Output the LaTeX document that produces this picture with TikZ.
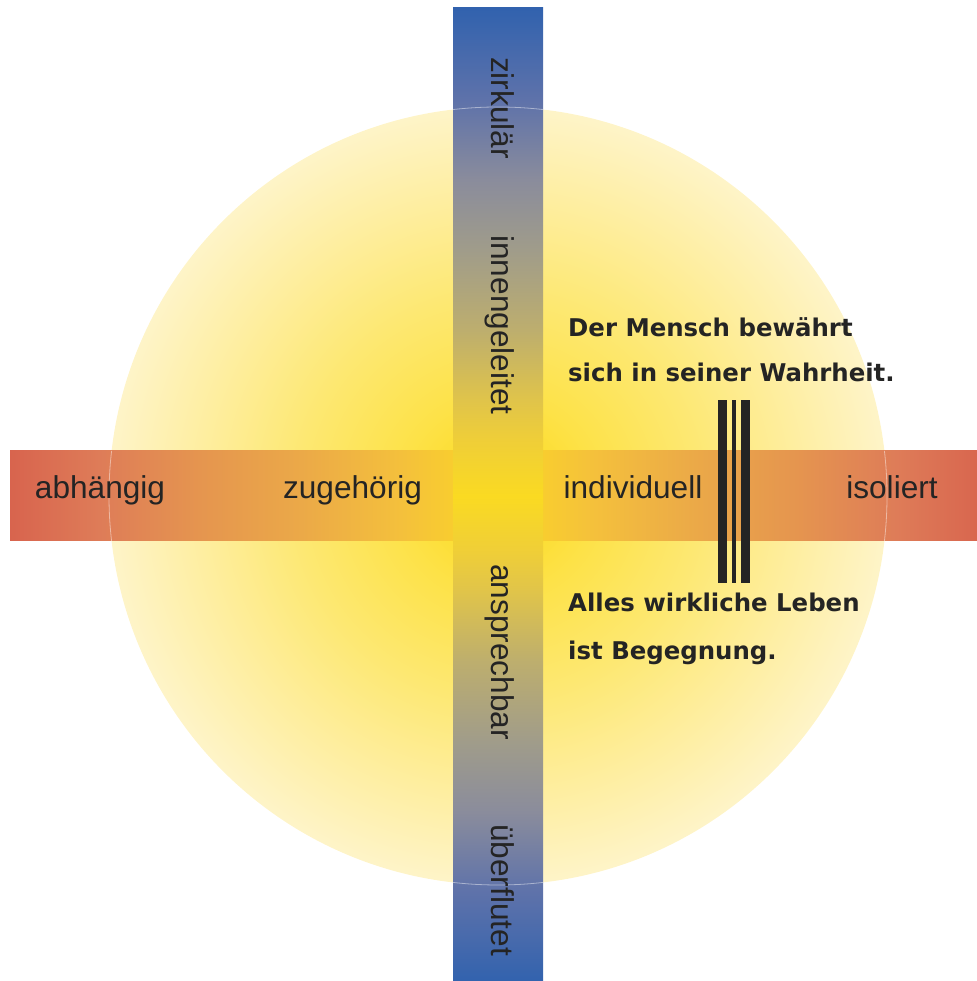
\documentclass[tikz,border=0pt]{standalone}
\usepackage{fontspec}
\setmainfont{Liberation Sans}
\newfontfamily\quotefont{DejaVu Sans}
% circle colours
\definecolor{s0}{HTML}{FBD91E}
\definecolor{s1}{HTML}{FCDD30}
\definecolor{s2}{HTML}{FDE248}
\definecolor{s3}{HTML}{FDE872}
\definecolor{s4}{HTML}{FEEEA0}
\definecolor{s5}{HTML}{FEF4C8}
% vertical bar colours
\definecolor{v0}{HTML}{3162AE}
\definecolor{v1}{HTML}{5E72AA}
\definecolor{v2}{HTML}{8A8C9C}
\definecolor{v3}{HTML}{A09C8A}
\definecolor{v4}{HTML}{BDAE6E}
\definecolor{v5}{HTML}{E0C44A}
\definecolor{v6}{HTML}{EFCE38}
\definecolor{v7}{HTML}{FADA22}
% horizontal bar colours
\definecolor{h0}{HTML}{D8644E}
\definecolor{h1}{HTML}{DE7C58}
\definecolor{h2}{HTML}{E5954F}
\definecolor{h3}{HTML}{EBA948}
\definecolor{h4}{HTML}{F4C03C}
\definecolor{h5}{HTML}{F8CC30}
\definecolor{h6}{HTML}{FBD924}
\definecolor{ink}{HTML}{242424}
\pgfdeclareradialshading{sun}{\pgfpoint{0bp}{0bp}}{color(0bp)=(s0); color(3.2bp)=(s1); color(6.4bp)=(s2); color(12.9bp)=(s3); color(19.3bp)=(s4); color(25bp)=(s5); color(50bp)=(s5)}
\pgfdeclareverticalshading{vbar}{100bp}{color(0bp)=(v0); color(25bp)=(v0); color(29.7bp)=(v1); color(33.8bp)=(v2); color(37.4bp)=(v3); color(41.5bp)=(v4); color(45.1bp)=(v5); color(47.1bp)=(v6); color(50bp)=(v7); color(52.9bp)=(v6); color(54.9bp)=(v5); color(58.5bp)=(v4); color(62.6bp)=(v3); color(66.2bp)=(v2); color(70.3bp)=(v1); color(75bp)=(v0); color(100bp)=(v0)}
\pgfdeclarehorizontalshading{hbar}{100bp}{color(0bp)=(h0); color(25bp)=(h0); color(29.6bp)=(h1); color(34.7bp)=(h2); color(39.9bp)=(h3); color(45bp)=(h4); color(47.5bp)=(h5); color(50bp)=(h6); color(52.5bp)=(h5); color(55bp)=(h4); color(60.1bp)=(h3); color(65.3bp)=(h2); color(70.4bp)=(h1); color(75bp)=(h0); color(100bp)=(h0)}
\begin{document}
\begin{tikzpicture}[x=1pt,y=1pt,
  label/.style={inner sep=0pt, text=ink, font=\fontsize{31.6}{36}\selectfont},
  vlabel/.style={label, rotate=-90, anchor=base},
  hlabel/.style={label, anchor=base},
  quote/.style={inner sep=0pt, anchor=base west, text=ink, font=\quotefont\bfseries\fontsize{24.4}{28}\selectfont},
  stripe/.style={fill=ink, draw=none},
  seam/.style={draw=white, draw opacity=0.45, line width=0.8pt}]
\useasboundingbox (0,0) rectangle (976,981);
\coordinate (c) at (498,485);
% sun
\shade[shading=sun] (c) circle (389);
% bars
\shade[shading=hbar] (10,440) rectangle (986,530);
\shade[shading=vbar] (453,-3) rectangle (543,973);
% faint seams where the bars cross the rim of the sun
\begin{scope}
  \clip (10,440) rectangle (986,530) (453,-3) rectangle (543,973);
  \draw[seam] (c) circle (389);
\end{scope}
% horizontal labels
\node[hlabel] (abh) at (100,482) {abhängig};
\node[hlabel] (zug) at (352.5,482) {zugehörig};
\node[hlabel] (ind) at (633,482) {individuell};
\node[hlabel] (iso) at (892,482) {isoliert};
% vertical labels
\node[vlabel] (zir) at (491,873) {zirkulär};
\node[vlabel] (inn) at (491,656) {innengeleitet};
\node[vlabel] (ans) at (491,329) {ansprechbar};
\node[vlabel] (ueb) at (491,91) {überflutet};
% stripes
\fill[stripe] (718,398) rectangle (727,581);
\fill[stripe] (732,398) rectangle (736,581);
\fill[stripe] (741,398) rectangle (750,581);
% quotes
\node[quote] (q1) at (568,644) {Der Mensch bewährt};
\node[quote] (q2) at (568,599) {sich in seiner Wahrheit.};
\node[quote] (q3) at (568,369) {Alles wirkliche Leben};
\node[quote] (q4) at (568,321) {ist Begegnung.};
\end{tikzpicture}
\end{document}
